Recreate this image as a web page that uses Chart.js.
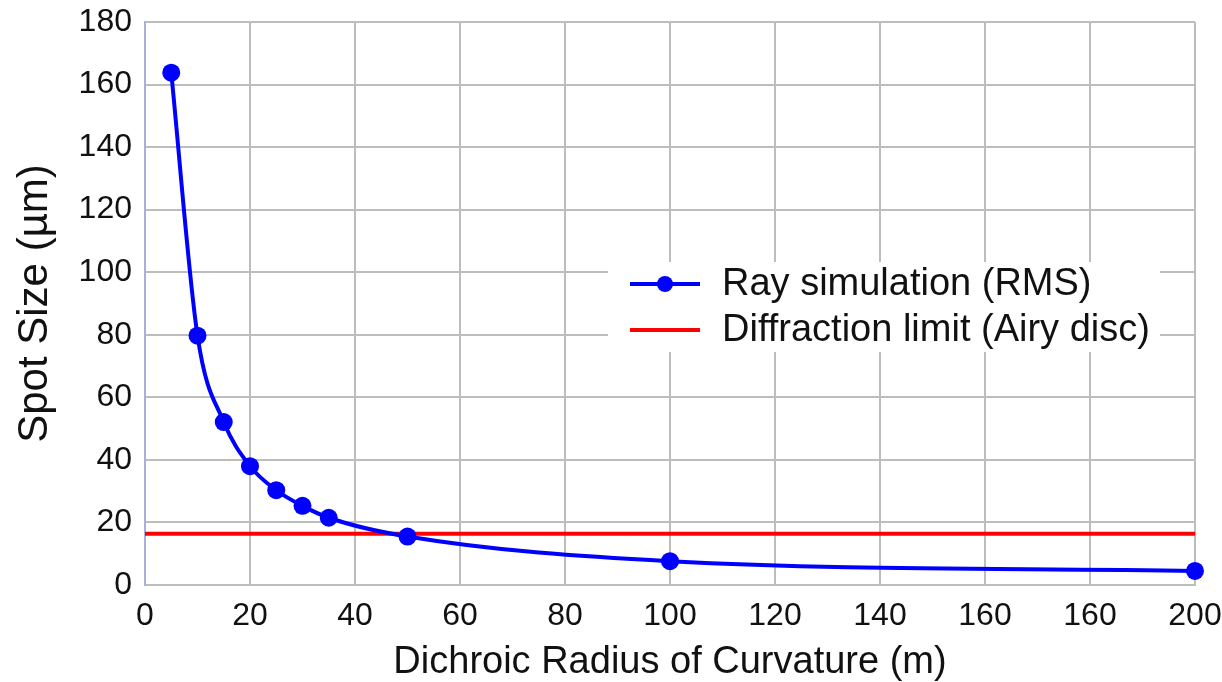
<!DOCTYPE html>
<html lang="en">

<head>
    <meta charset="UTF-8">
    <title>Spot Size vs Dichroic Radius</title>
    <script src="https://cdn.jsdelivr.net/npm/chart.js"></script>
    <style>
        html, body {
            margin: 0;
            padding: 0;
            background: #fff;
        }

        .chart-container {
            width: 1222px;
            height: 682px;
        }
    </style>
</head>

<body>
    <div class="chart-container">
        <canvas id="myChart"></canvas>
    </div>

    <script>
        // Data
        const radiusM = [5, 10, 15, 20, 25, 30, 35, 50, 100, 200];
        const spotRms = [163.8, 79.7, 52.1, 38.0, 30.3, 25.3, 21.5, 15.5, 7.6, 4.5];
        const airyX = [0, 200];
        const airyY = [16.4, 16.4];
        // the original labels 180 as "160"
        const xTickLabels = ['0', '20', '40', '60', '80', '100', '120', '140', '160', '160', '200'];

        const FONT = "'Liberation Sans', Arial, sans-serif";

        // legend drawn inside the plot, over a white box
        const boxLegendPlugin = {
            id: 'boxLegend',
            afterDatasetsDraw(chart) {
                const { ctx } = chart;
                const sets = chart.data.datasets;
                ctx.save();
                ctx.fillStyle = '#fff';
                ctx.fillRect(608, 262, 552, 90);
                ctx.font = '38px ' + FONT;
                ctx.textBaseline = 'middle';
                ctx.textAlign = 'left';
                const rows = [284, 330];
                sets.forEach((ds, i) => {
                    const y = rows[i];
                    ctx.strokeStyle = ds.borderColor;
                    ctx.lineWidth = 4;
                    ctx.beginPath();
                    ctx.moveTo(630, y);
                    ctx.lineTo(700, y);
                    ctx.stroke();
                    if (ds.pointRadius > 0) {
                        ctx.fillStyle = ds.pointBackgroundColor;
                        ctx.beginPath();
                        ctx.arc(665, y, 8, 0, Math.PI * 2);
                        ctx.fill();
                    }
                    ctx.fillStyle = '#111';
                    ctx.fillText(ds.label, 722, y + 1);
                });
                ctx.restore();
            }
        };

        const ctx = document.getElementById('myChart').getContext('2d');
        const chart = new Chart(ctx, {
            type: 'line',
            data: {
                datasets: [
                    {
                        label: 'Ray simulation (RMS)',
                        data: radiusM.map((x, i) => ({ x: x, y: spotRms[i] })),
                        borderColor: '#0000ff',
                        backgroundColor: '#0000ff',
                        pointBackgroundColor: '#0000ff',
                        pointBorderColor: '#0000ff',
                        borderWidth: 4,
                        pointRadius: 9,
                        pointBorderWidth: 0,
                        cubicInterpolationMode: 'monotone',
                        fill: false,
                        clip: false
                    },
                    {
                        label: 'Diffraction limit (Airy disc)',
                        data: airyX.map((x, i) => ({ x: x, y: airyY[i] })),
                        borderColor: '#ff0000',
                        backgroundColor: '#ff0000',
                        borderWidth: 4,
                        pointRadius: 0,
                        fill: false,
                        clip: false
                    }
                ]
            },
            options: {
                responsive: true,
                maintainAspectRatio: false,
                animation: false,
                layout: {
                    padding: { top: 22, right: 27, left: 0, bottom: 0 }
                },
                scales: {
                    x: {
                        type: 'linear',
                        min: 0,
                        max: 200,
                        afterFit(scale) {
                            scale.height = 97;
                            scale.paddingLeft = 0;
                            scale.paddingRight = 0;
                        },
                        border: { color: '#bdbdbd', width: 2 },
                        grid: { color: '#bdbdbd', lineWidth: 2, drawTicks: false },
                        ticks: {
                            stepSize: 20,
                            padding: 12,
                            color: '#111',
                            font: { family: FONT, size: 32 },
                            callback: (v) => xTickLabels[Math.round(v / 20)]
                        },
                        title: {
                            display: true,
                            text: 'Dichroic Radius of Curvature (m)',
                            color: '#111',
                            font: { family: FONT, size: 38, lineHeight: 1 },
                            padding: { top: 0, bottom: 0 }
                        }
                    },
                    y: {
                        min: 0,
                        max: 180,
                        afterFit(scale) {
                            scale.width = 145;
                            scale.paddingTop = 0;
                            scale.paddingBottom = 0;
                        },
                        border: { color: '#aab0dc', width: 2 },
                        grid: { color: '#bdbdbd', lineWidth: 2, drawTicks: false },
                        ticks: {
                            stepSize: 10,
                            padding: 13,
                            color: '#111',
                            font: { family: FONT, size: 32 },
                            callback: (v) => (v % 20 === 0 ? String(v) : '')
                        },
                        title: {
                            display: true,
                            text: 'Spot Size (µm)',
                            color: '#111',
                            font: { family: FONT, size: 42, lineHeight: 1 },
                            padding: { top: 14, bottom: 0 }
                        }
                    }
                },
                plugins: {
                    legend: { display: false },
                    tooltip: { enabled: false }
                }
            },
            plugins: [boxLegendPlugin]
        });
    </script>
</body>

</html>
